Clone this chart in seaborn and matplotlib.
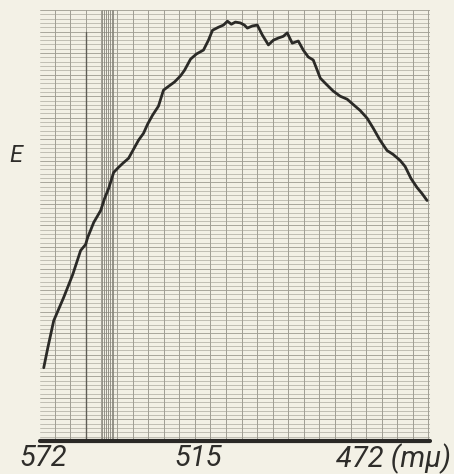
import numpy as np
import pandas as pd
import seaborn as sns
import matplotlib.pyplot as plt

# Recorder trace: drum position (chart divisions) and extinction E (chart units)
position = [0.19, 0.45, 0.83, 1.47, 2.05, 2.56, 2.88, 3.01, 3.40, 3.85,
            4.10, 4.36, 4.68, 4.94, 5.26, 5.64, 5.96, 6.28, 6.60, 6.86,
            7.18, 7.56, 7.88, 8.21, 8.59, 8.97, 9.23, 9.62, 10.00, 10.45,
            10.77, 11.03, 11.41, 11.73, 11.99, 12.24, 12.50, 12.82, 13.08, 13.27,
            13.59, 13.91, 14.23, 14.62, 14.94, 15.26, 15.58, 15.83, 16.15, 16.54,
            16.86, 17.18, 17.50, 17.76, 17.95, 18.33, 18.78, 19.23, 19.68, 20.06,
            20.51, 20.96, 21.35, 21.79, 22.24, 22.63, 23.08, 23.40, 23.78, 24.17,
            24.49, 24.81]
extinction = [17.0, 21.6, 27.9, 33.3, 38.6, 44.2, 45.6, 47.2, 50.7, 53.5,
              56.3, 58.6, 62.3, 63.3, 64.4, 65.6, 67.7, 69.8, 71.4, 73.5,
              75.6, 77.7, 81.4, 82.3, 83.3, 84.7, 86.0, 88.6, 89.8, 90.7,
              93.0, 95.3, 96.0, 96.5, 97.4, 96.7, 97.2, 97.0, 96.5, 95.8,
              96.3, 96.5, 94.2, 91.9, 93.0, 93.5, 93.9, 94.7, 92.3, 92.8,
              90.7, 89.1, 88.4, 86.0, 84.2, 82.8, 81.2, 80.0, 79.3, 78.1,
              76.7, 74.9, 72.6, 69.8, 67.4, 66.5, 65.1, 63.7, 60.9, 58.8,
              57.4, 55.8]

# Wavelength marks on the chart scale (the last one carries the unit)
tick_positions = [0.13, 10.1, 18.97]
tick_labels = ["572", "515", "472 (mμ)"]
tick_align = ["center", "center", "left"]

df = pd.DataFrame({"position": position, "E": extinction})

sns.set_style("white")
plt.rcParams["font.family"] = ["Roboto", "DejaVu Sans"]

paper = "#f3f1e6"
ink = "#2e2d2a"
fig = plt.figure(figsize=(4.54, 4.74), dpi=100, facecolor=paper)
ax = fig.add_axes([40 / 454, 33 / 474, 390 / 454, 431 / 474])
ax.set_facecolor("#f2f0e5")

ax.set_xlim(-0.05, 25.0)
ax.set_ylim(0, 100)

# chart paper ruling
for k in range(0, 101):
    shade = "#9c9a90" if k % 5 == 0 else "#b8b6ab"
    ax.axhline(k, color=shade, lw=0.6, zorder=1)
for k in range(0, 26):
    ax.axvline(k - 0.1, color="#a09e94", lw=0.7, zorder=1)
ax.axvline(2.9, ymin=0.0, ymax=0.95, color="#5f5d56", lw=1.0, zorder=1)
for v in np.arange(3.95, 4.75, 0.12):
    ax.axvline(v, color="#858379", lw=0.6, zorder=1)

sns.lineplot(data=df, x="position", y="E", ax=ax, color="#2b2a27",
             linewidth=2.0, sort=False, zorder=3)

ax.axhline(0, color="#2a2926", lw=3.0, zorder=4, clip_on=False)

for s in ax.spines.values():
    s.set_visible(False)
ax.set_xticks(tick_positions)
ax.set_xticklabels(tick_labels, fontsize=21, style="italic", color=ink)
for lab, ha in zip(ax.get_xticklabels(), tick_align):
    lab.set_horizontalalignment(ha)
ax.set_yticks([])
ax.tick_params(axis="x", length=0, pad=2)
ax.set_xlabel("")
ax.set_ylabel("")

fig.text(9 / 454, 319 / 474, "E", fontsize=17, style="italic",
         color=ink, ha="left", va="center")

fig.savefig("out.png", dpi=100, facecolor=paper)
